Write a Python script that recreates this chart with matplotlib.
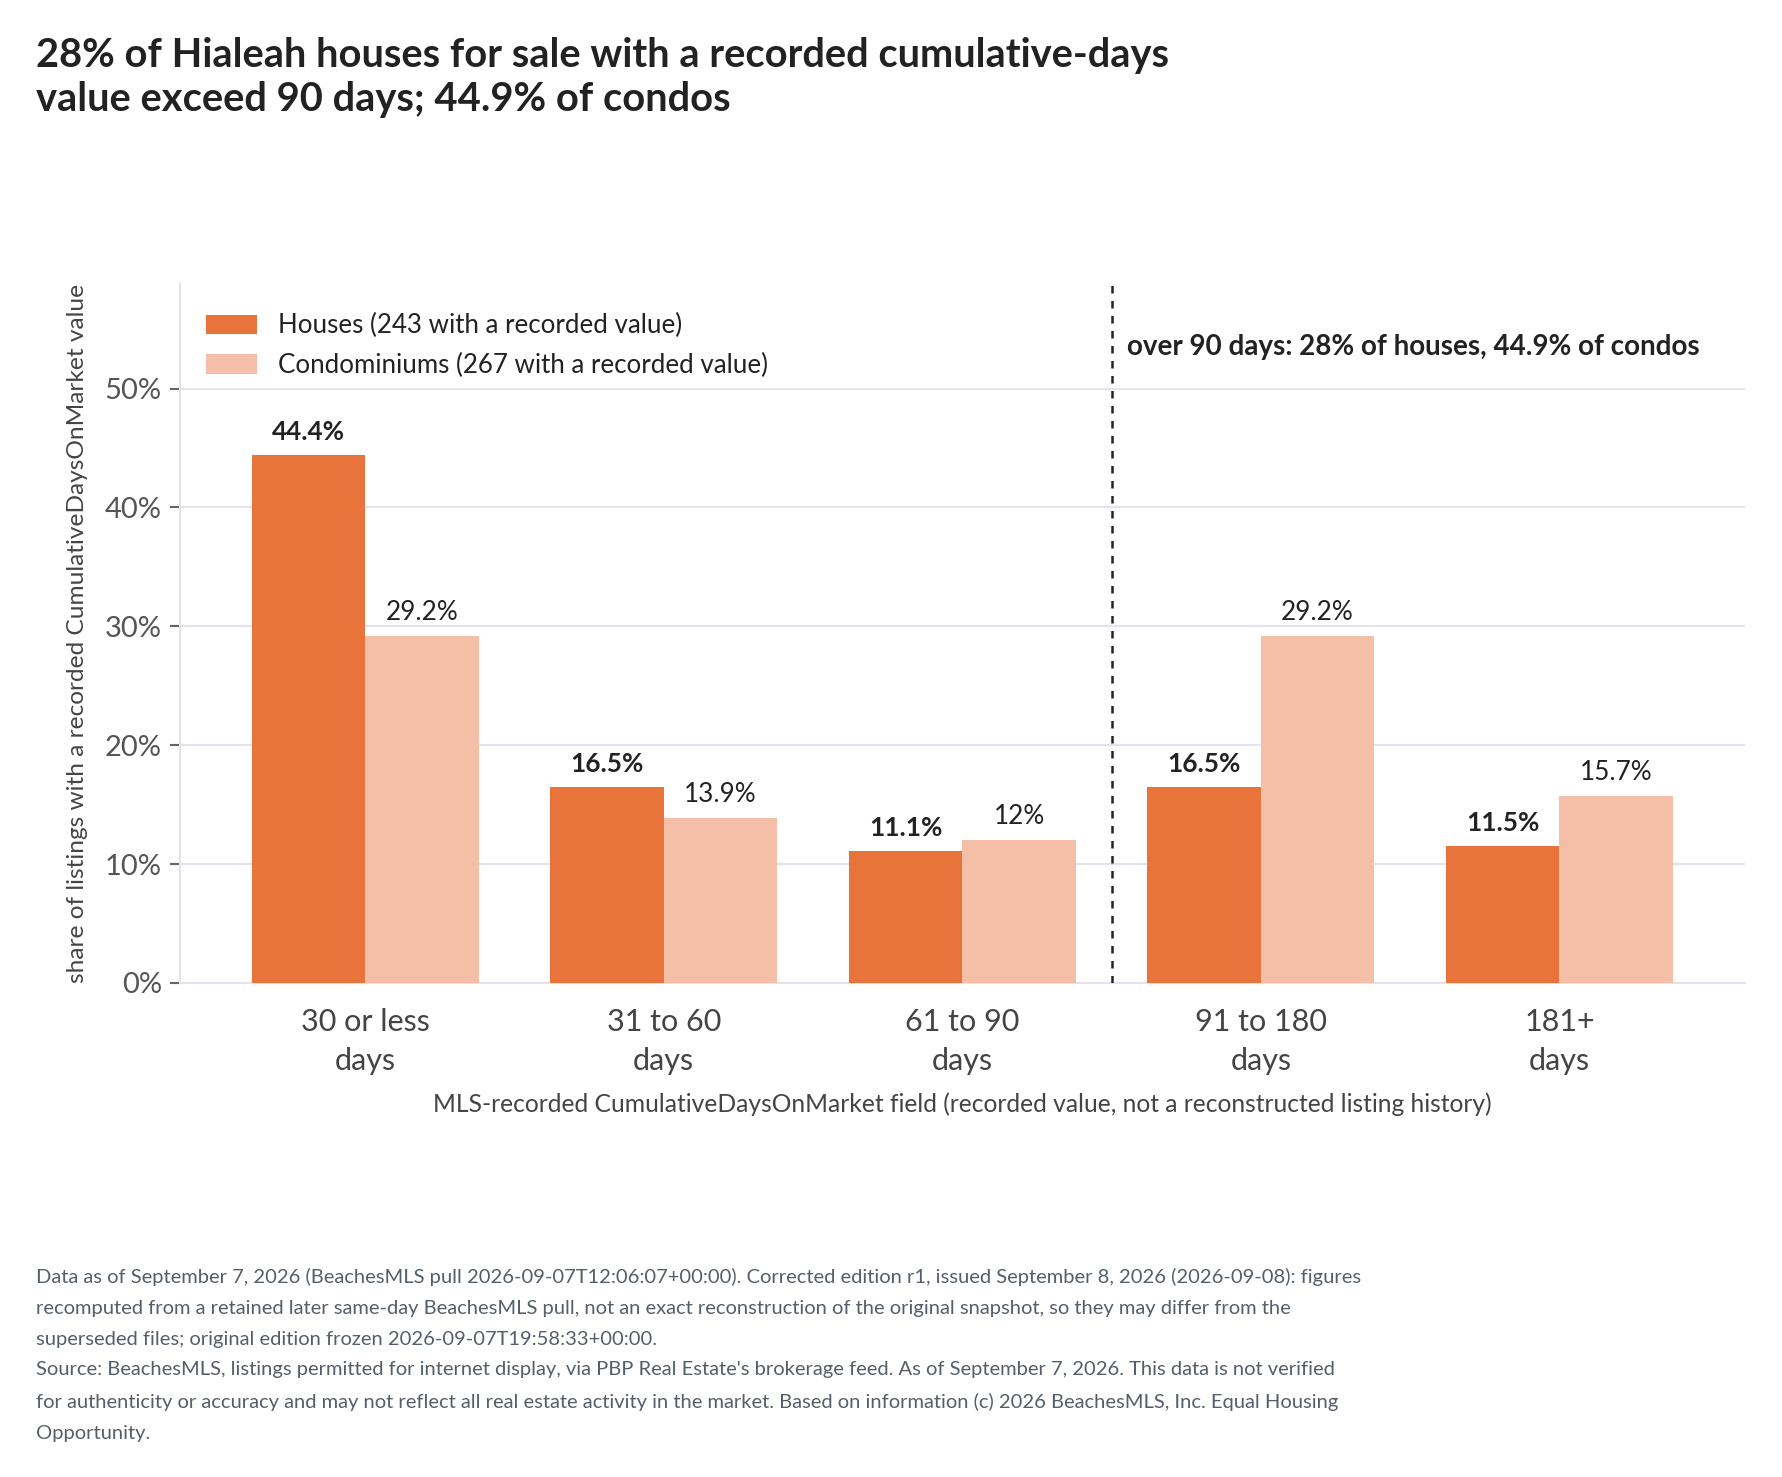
import matplotlib
matplotlib.use("Agg")
import matplotlib.pyplot as plt
import numpy as np

categories = ["30 or less\ndays", "31 to 60\ndays", "61 to 90\ndays", "91 to 180\ndays", "181+\ndays"]
houses = [44.4, 16.5, 11.1, 16.5, 11.5]
condos = [29.2, 13.9, 12.0, 29.2, 15.7]
yticks = [0, 10, 20, 30, 40, 50]

title = ("28% of Hialeah houses for sale with a recorded cumulative-days\n"
         "value exceed 90 days; 44.9% of condos")
house_label = "Houses (243 with a recorded value)"
condo_label = "Condominiums (267 with a recorded value)"
annot = "over 90 days: 28% of houses, 44.9% of condos"
xlabel = "MLS-recorded CumulativeDaysOnMarket field (recorded value, not a reconstructed listing history)"
ylabel = "share of listings with a recorded CumulativeDaysOnMarket value"
footnote = ("Data as of September 7, 2026 (BeachesMLS pull 2026-09-07T12:06:07+00:00). Corrected edition r1, issued September 8, 2026 (2026-09-08): figures\n"
            "recomputed from a retained later same-day BeachesMLS pull, not an exact reconstruction of the original snapshot, so they may differ from the\n"
            "superseded files; original edition frozen 2026-09-07T19:58:33+00:00.\n"
            "Source: BeachesMLS, listings permitted for internet display, via PBP Real Estate's brokerage feed. As of September 7, 2026. This data is not verified\n"
            "for authenticity or accuracy and may not reflect all real estate activity in the market. Based on information (c) 2026 BeachesMLS, Inc. Equal Housing\n"
            "Opportunity.")

plt.rcParams['font.family'] = ['Lato', 'DejaVu Sans']

HOUSE_C = "#E8743B"
CONDO_C = "#F5BFA7"
GRID_C = "#E3E3EF"
TEXT_C = "#222222"

fig = plt.figure(figsize=(17.82, 14.77), dpi=100)
ax = fig.add_axes([0.101, 0.3345, 0.878, 0.4732])

x = np.arange(len(categories))
w = 0.38
b1 = ax.bar(x - w / 2, houses, w, color=HOUSE_C, label=house_label, zorder=3)
b2 = ax.bar(x + w / 2, condos, w, color=CONDO_C, label=condo_label, zorder=3)

def fmt(v):
    return f"{v:g}%"

for rect, v in zip(b1, houses):
    ax.annotate(fmt(v), (rect.get_x() + rect.get_width() / 2, v), xytext=(0, 8),
                textcoords="offset points", ha="center", va="bottom",
                fontsize=18.8, fontweight="bold", color=TEXT_C)
for rect, v in zip(b2, condos):
    ax.annotate(fmt(v), (rect.get_x() + rect.get_width() / 2, v), xytext=(0, 8),
                textcoords="offset points", ha="center", va="bottom",
                fontsize=18.8, color=TEXT_C)

ax.set_xlim(-0.62, 4.62)
ax.set_ylim(0, 58.8)
ax.set_yticks(yticks)
ax.set_yticklabels([f"{t}%" for t in yticks], fontsize=21, color="#555555")
ax.set_xticks(x)
ax.set_xticklabels(categories, fontsize=22, color="#444444", linespacing=1.5)
ax.tick_params(axis="x", length=0, pad=18)
ax.tick_params(axis="y", length=7, width=1.5, color="#666666", pad=6)

ax.grid(axis="y", color=GRID_C, linewidth=1.5, zorder=0)
for s in ["top", "right"]:
    ax.spines[s].set_visible(False)
ax.spines["left"].set_color(GRID_C)
ax.spines["left"].set_linewidth(1.5)
ax.spines["bottom"].set_color(GRID_C)
ax.spines["bottom"].set_linewidth(1.5)

ax.axvline(2.5, color="#222222", linestyle=(0, (3, 3)), linewidth=1.8, zorder=4)
ax.text(2.55, 53.5, annot, fontsize=20, fontweight="bold", color=TEXT_C,
        ha="left", va="center")

ax.set_xlabel(xlabel, fontsize=17.7, color="#444444", labelpad=12)
ax.set_ylabel(ylabel, fontsize=17.6, color="#444444", labelpad=12)
ax.yaxis.set_label_coords(-0.059, 0.5)

leg = ax.legend(loc="upper left", frameon=False, fontsize=18.6, handlelength=2.0,
                handleheight=0.8, labelspacing=0.55, bbox_to_anchor=(0.0, 0.995),
                borderaxespad=0.6)
for t in leg.get_texts():
    t.set_color(TEXT_C)

fig.text(0.0204, 0.975, title, fontsize=28.7, fontweight="bold", color=TEXT_C,
         ha="left", va="top", linespacing=1.25)
fig.text(0.0204, 0.1415, footnote, fontsize=14.5, color="#555e6a", ha="left", va="top",
         linespacing=1.98)

fig.savefig("out.png", dpi=100, facecolor="white")
